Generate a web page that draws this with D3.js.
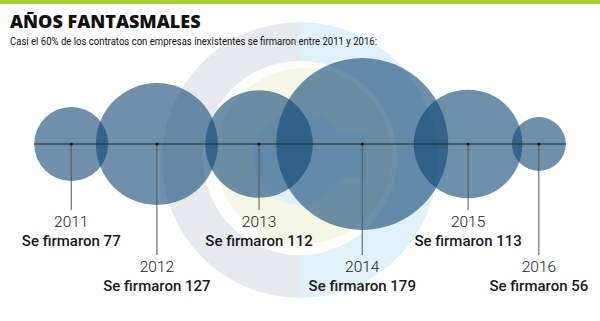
<!DOCTYPE html>
<html><head><meta charset="utf-8">
<script src="https://cdn.jsdelivr.net/npm/d3@7"></script>
<style>body{margin:0;background:#fff}svg{display:block}</style>
</head><body>
<script>
// ---- data ----
const years = ["2011","2012","2013","2014","2015","2016"];
const contracts = [77,127,112,179,113,56];
// position of each year along the timeline (percent of the axis length)
const timelinePos = [7.0,23.1,42.3,61.7,81.6,94.9];
const labelPrefix = "Se firmaron ";
const title = "AÑOS FANTASMALES";
const subtitle = "Casi el 60% de los contratos con empresas inexistentes se firmaron entre 2011 y 2016:";

const W = 600, H = 321;
const svg = d3.select("body").append("svg").attr("width", W).attr("height", H);

// top green band
svg.append("rect").attr("x",0).attr("y",0).attr("width",W).attr("height",4).attr("fill","#a7d03b");

// background logo
const logo = svg.append("g");
const cx = 300, cy = 160;
const arc = d3.arc();
logo.append("path").attr("transform",`translate(${cx},${cy})`)
  .attr("d", arc({innerRadius:0,outerRadius:138,startAngle:Math.PI,endAngle:2*Math.PI})).attr("fill","#e6eaef");
logo.append("path").attr("transform",`translate(${cx},${cy})`)
  .attr("d", arc({innerRadius:0,outerRadius:138,startAngle:0,endAngle:Math.PI})).attr("fill","#e0f1fa");
logo.append("circle").attr("cx",300).attr("cy",158).attr("r",97).attr("fill","#ffffff");
logo.append("circle").attr("cx",304).attr("cy",156).attr("r",88).attr("fill","#f4f7e5");
logo.append("circle").attr("cx",300).attr("cy",158).attr("r",47).attr("fill","#e0f1fa");
logo.append("rect").attr("x",300).attr("y",131).attr("width",67).attr("height",47).attr("fill","#e0f1fa");

// title
svg.append("text").attr("x",10).attr("y",28).text(title)
  .attr("font-family","'Open Sans', sans-serif").attr("font-weight",800).attr("font-size",18)
  .attr("fill","#111");
svg.append("text").attr("x",10).attr("y",45).text(subtitle)
  .attr("font-family","Roboto, sans-serif").attr("font-size",11)
  .attr("textLength",367).attr("lengthAdjust","spacingAndGlyphs")
  .attr("fill","#111");

// scales
const axisY = 144;
const x = d3.scaleLinear().domain([0,100]).range([34,566]);
const r = d3.scaleLinear().domain([0,179]).range([0,86]);

const data = years.map((y,i)=>({year:y, value:contracts[i], pos:timelinePos[i], i}));

// bubbles
svg.append("g").selectAll("circle").data(data).join("circle")
  .attr("cx",d=>x(d.pos)).attr("cy",axisY).attr("r",d=>r(d.value))
  .attr("fill","#0f4673").attr("fill-opacity",0.6);

// axis line
svg.append("line").attr("x1",x(0)).attr("x2",x(100)).attr("y1",axisY).attr("y2",axisY)
  .attr("stroke","#222").attr("stroke-width",1);

const g = svg.append("g").selectAll("g").data(data).join("g")
  .attr("transform",d=>`translate(${x(d.pos)},0)`);
const tier = d => d.i % 2 === 0 ? 0 : 45;
g.append("line").attr("x1",0).attr("x2",0).attr("y1",axisY).attr("y2",d=>210+tier(d))
  .attr("stroke","#555").attr("stroke-width",1);
g.append("circle").attr("cx",0).attr("cy",axisY).attr("r",1.6).attr("fill","#111");
g.append("text").attr("y",d=>227+tier(d)).attr("text-anchor","middle").text(d=>d.year)
  .attr("font-family","Roboto, sans-serif").attr("font-weight",300).attr("font-size",15.5).attr("fill","#222");
g.append("text").attr("y",d=>246+tier(d)).attr("text-anchor","middle").text(d=>labelPrefix+d.value)
  .attr("font-family","Roboto, sans-serif").attr("font-weight",500).attr("font-size",15).attr("fill","#1a1a1a");
</script>
</body></html>
